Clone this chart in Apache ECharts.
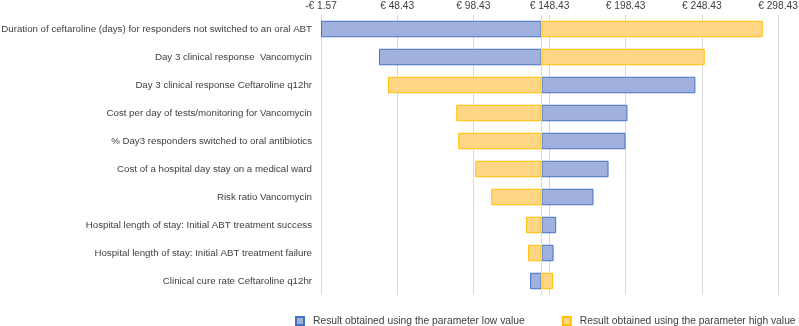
<!DOCTYPE html>
<html>
<head>
<meta charset="utf-8">
<script src="https://cdn.jsdelivr.net/npm/echarts@6/dist/echarts.min.js"></script>
<style>
html,body{margin:0;padding:0;background:#fff;}
#chart{width:799px;height:326px;}
</style>
</head>
<body>
<div id="chart"></div>
<script>
// parameters (top to bottom)
const categories = [
  'Duration of ceftaroline (days) for responders not switched to an oral ABT',
  'Day 3 clinical response  Vancomycin',
  'Day 3 clinical response Ceftaroline q12hr',
  'Cost per day of tests/monitoring for Vancomycin',
  '% Day3 responders switched to oral antibiotics',
  'Cost of a hospital day stay on a medical ward',
  'Risk ratio Vancomycin',
  'Hospital length of stay: Initial ABT treatment success',
  'Hospital length of stay: Initial ABT treatment failure',
  'Clinical cure rate Ceftaroline q12hr'
]
// result (EUR) with the parameter at its low / high value
const lowResult  = [-1.57, 36.5, 244.2, 199.6, 198.3, 187.2, 177.3, 152.8, 151.1, 135.7]
const highResult = [288.4, 250.3, 42.4, 87.2, 88.5, 99.7, 110.2, 133.1, 134.4, 150.8]
const baseResult = 143.2
const tickLabels = ['-€ 1.57', '€ 48.43', '€ 98.43', '€ 148.43', '€ 198.43', '€ 248.43', '€ 298.43']
const axisMin = -1.57
const axisMax = 298.43
const seriesNames = ['Result obtained using the parameter low value', 'Result obtained using the parameter high value']

const mychart = echarts.init(document.getElementById('chart'))

const option = {
  animation: false,
  textStyle: { fontFamily: 'Liberation Sans, Arial, sans-serif' },
  grid: { left: 321, right: 21, top: 15, bottom: 31, containLabel: false, outerBoundsMode: 'none' },
  legend: {
    left: 290,
    top: 311,
    width: 520,
    icon: 'rect',
    itemWidth: 8,
    itemHeight: 8,
    itemGap: 37,
    textStyle: { fontSize: 10.3, color: '#404040', padding: [0, 0, 0, 4] },
    data: seriesNames
  },
  xAxis: [{
    // bars are drawn relative to the base case result
    type: 'value',
    position: 'top',
    min: axisMin - baseResult,
    max: axisMax - baseResult,
    show: false,
    splitLine: { show: false }
  }, {
    // display axis: gridlines and tick labels
    type: 'value',
    position: 'top',
    min: 0,
    max: axisMax - axisMin,
    interval: 50,
    axisLine: { show: false },
    axisTick: { show: false },
    axisLabel: {
      margin: 4,
      fontSize: 10.2,
      color: '#404040',
      formatter: v => tickLabels[Math.round(v / 50)]
    },
    splitLine: { show: true, lineStyle: { color: '#d9d9d9', width: 1 } }
  }],
  yAxis: {
    type: 'category',
    data: categories,
    inverse: true,
    axisLine: { show: false },
    axisTick: { show: false },
    axisLabel: { margin: 9, fontSize: 9.7, color: '#404040' }
  },
  series: [{
    name: seriesNames[0],
    type: 'bar',
    xAxisIndex: 0,
    barWidth: 16.5,
    barGap: '-100%',
    data: lowResult.map(v => v - baseResult),
    itemStyle: { color: '#a0b1de', borderColor: '#4472c4', borderWidth: 1 },
    markLine: {
      silent: true,
      symbol: 'none',
      label: { show: false },
      lineStyle: { color: '#d9d9d9', type: 'solid', width: 1 },
      data: [{ xAxis: 0 }]
    }
  }, {
    name: seriesNames[1],
    type: 'bar',
    xAxisIndex: 0,
    barWidth: 16.5,
    barGap: '-100%',
    data: highResult.map(v => v - baseResult),
    itemStyle: { color: '#ffd685', borderColor: '#ffc000', borderWidth: 1 }
  }]
}
mychart.setOption(option, true)
</script>
</body>
</html>
